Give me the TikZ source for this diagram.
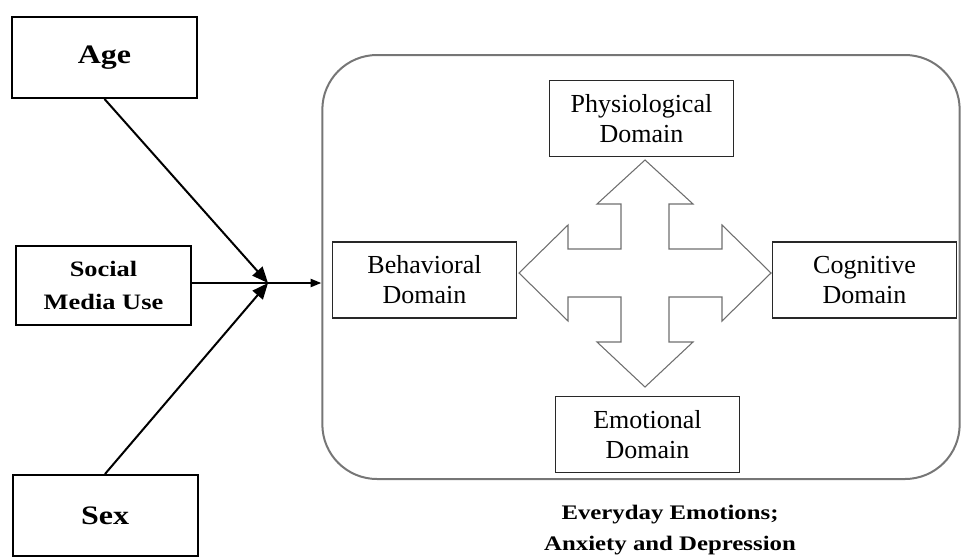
\documentclass[tikz,border=0pt]{standalone}
\usepackage{fontspec}
\setmainfont{Liberation Serif}
\newfontfamily\widebf{Liberation Serif}[FakeStretch=1.2]
\usetikzlibrary{arrows.meta}
\tikzset{
  factor/.style={draw, line width=1.5pt, minimum width=138.75pt, minimum height=60.75pt, align=center, font=\widebf\bfseries\fontsize{20}{23}\selectfont},
  domainbox/.style={draw={rgb, 255:red, 40; green, 40; blue, 40 }, line width=1pt, minimum width=138pt, minimum height=57pt, align=center, font=\fontsize{19.5}{22.5}\selectfont},
  link/.style={line width=1.5pt, -{Triangle[length=12pt,width=10pt]}},
}
\begin{document}
\begin{tikzpicture}[x=0.75pt,y=0.75pt,yscale=-1,xscale=1]
\useasboundingbox (0,0) rectangle (962,557);

%Rounded Rect: emotions panel
\node [draw={rgb, 255:red, 118; green, 118; blue, 118 }, line width=1.5pt, rounded corners=41pt, minimum width=478pt, minimum height=318pt] (panel) at (641,267) {};

% Factor Nodes
\node [factor] (age) at (104.5,57.5) {Age};
\node [factor, minimum width=131pt, minimum height=59pt, font=\widebf\bfseries\fontsize{16.5}{24.5}\selectfont] (media) at (103.5,285.5) {Social\\Media Use};
\node [factor] (sex) at (105,515.5) {Sex};

% Domain Nodes
\node [domainbox] (phys) at (641.5,118.5) {Physiological\\Domain};
\node [domainbox] (behav) at (424.5,280) {Behavioral\\Domain};
\node [domainbox] (cogn) at (864.5,280) {Cognitive\\Domain};
\node [domainbox] (emot) at (647.5,434.5) {Emotional\\Domain};

% Text Node
\node [font=\widebf\bfseries\fontsize{15.5}{23}\selectfont, align=center] (caption) at (670,530) {Everyday Emotions;\\Anxiety and Depression};

%Shape: Quad Arrow
\draw [draw={rgb, 255:red, 110; green, 110; blue, 110 }, line width=0.8pt] (645,160) -- (693,204) -- (669,204) -- (669,249) -- (722,249) -- (722,225) -- (771,273) -- (722,321) -- (722,297) -- (669,297) -- (669,342) -- (693,342) -- (645,387) -- (597,342) -- (621,342) -- (621,297) -- (568,297) -- (568,321) -- (519,273) -- (568,225) -- (568,249) -- (621,249) -- (621,204) -- (597,204) -- cycle ;

% Connectors
\coordinate (hub) at (268,283);
\draw [link] (age.south) -- (hub);
\draw [link] (sex.north) -- (hub);
\draw [line width=1.5pt, -{Triangle[length=8pt,width=6pt]}] (media.east |- hub) -- (hub -| panel.west);

\end{tikzpicture}
\end{document}
